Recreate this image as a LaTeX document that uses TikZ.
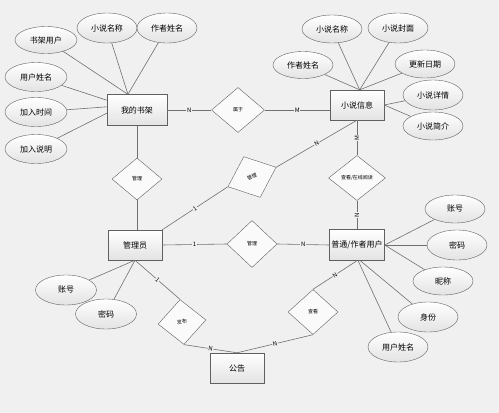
\documentclass[tikz,border=0pt]{standalone}
\usepackage{fontspec}
\newfontfamily\cjk{Noto Sans CJK SC}
\usetikzlibrary{shapes.geometric}
\definecolor{bg}{HTML}{F0F0F0}
\definecolor{edge}{HTML}{606060}
\tikzset{
  entity/.style={draw=edge, rectangle, minimum width=54pt, minimum height=30pt, inner sep=0pt,
    top color=white, bottom color=gray!22, font=\cjk\fontsize{8}{9}\selectfont},
  attr/.style={draw=edge, ellipse, minimum width=60pt, minimum height=28pt, inner sep=0pt,
    top color=white, bottom color=gray!22, font=\cjk\fontsize{8}{9}\selectfont},
  rel/.style={draw=edge, diamond, minimum width=50pt, minimum height=44pt, inner sep=0pt,
    fill=gray!4, font=\cjk\fontsize{5}{6}\selectfont},
  link/.style={draw=edge!90, line width=0.6pt},
  card/.style={fill=bg, inner sep=0.6pt, font=\cjk\fontsize{6}{7}\selectfont},
}
\begin{document}
\begin{tikzpicture}[x=1pt,y=-1pt]

% Background and picture size
\fill[bg] (0,0) rectangle (499,413);
\useasboundingbox (0,0) rectangle (499,413);

% Entities
\node[entity, minimum width=60pt, minimum height=31pt] (shelf) at (137,110) {我的书架};
\node[entity] (info) at (357,105) {小说信息};
\node[entity, minimum width=55pt, minimum height=31pt] (user) at (357,245) {普通/作者用户};
\node[entity] (admin) at (135,245) {管理员};
\node[entity] (notice) at (237,368) {公告};

% Relations
\node[rel, minimum width=53pt, minimum height=45pt] (belong) at (238,110) {属于};
\node[rel, minimum height=42pt] (manageshelf) at (137,179) {管理};
\node[rel, minimum width=52pt, rotate=22] (managebook) at (252,177) {管理};
\node[rel, minimum width=57pt, minimum height=45pt] (read) at (357,178) {查看/在线阅读};
\node[rel, minimum height=47pt] (manageuser) at (252,244) {管理};
\node[rel, minimum width=48pt, minimum height=45pt, rotate=5] (publish) at (182,322) {发布};
\node[rel, minimum height=45pt] (view) at (313,312) {查看};

% Attributes of the bookshelf
\node[attr, minimum width=62pt, minimum height=27pt] (shelfuser) at (46,40) {书架用户};
\node[attr, minimum height=30pt] (shelfbook) at (107,28) {小说名称};
\node[attr, minimum height=30pt] (shelfauthor) at (167,28) {作者姓名};
\node[attr, minimum width=62pt, minimum height=29pt] (shelfname) at (36,77) {用户姓名};
\node[attr, minimum width=62pt, minimum height=29pt] (shelftime) at (36,112) {加入时间};
\node[attr, minimum width=62pt, minimum height=29pt] (shelfnote) at (36,149) {加入说明};

% Attributes of the novel
\node[attr] (infoname) at (332,29) {小说名称};
\node[attr, minimum height=30pt] (infocover) at (398,28) {小说封面};
\node[attr, minimum height=27pt] (infoauthor) at (303,65) {作者姓名};
\node[attr] (infodate) at (425,64) {更新日期};
\node[attr, minimum height=30pt] (infodetail) at (433,95) {小说详情};
\node[attr] (infointro) at (433,126) {小说简介};

% Attributes of the user
\node[attr] (useraccount) at (455,209) {账号};
\node[attr, minimum height=30pt] (userpass) at (457,245) {密码};
\node[attr] (usernick) at (443,281) {昵称};
\node[attr, minimum height=30pt] (userrole) at (428,317) {身份};
\node[attr, minimum height=30pt] (username) at (398,347) {用户姓名};

% Attributes of the administrator
\node[attr, minimum width=61pt, minimum height=30pt] (adminaccount) at (66,290) {账号};
\node[attr, minimum width=61pt, minimum height=30pt] (adminpass) at (106,314) {密码};

% Attribute links
\draw[link] (shelfuser) -- (shelf.120);
\draw[link] (shelfbook) -- (shelf.120);
\draw[link] (shelfauthor) -- (shelf.120);
\draw[link] (shelfname) -- (shelf.162);
\draw[link] (shelftime) -- (shelf.174);
\draw[link] (shelfnote) -- (shelf.186);

\draw[link] (infoname) -- (info.80);
\draw[link] (infocover) -- (info.80);
\draw[link] (infoauthor) -- (info.80);
\draw[link] (infodate) -- (info.80);
\draw[link] (infodetail) -- (info.east);
\draw[link] (infointro) -- (info.east);

\draw[link] (useraccount) -- (user.east);
\draw[link] (userpass) -- (user.east);
\draw[link] (usernick) -- (user.east);
\draw[link] (userrole) -- (user.-78);
\draw[link] (username) -- (user.-86);

\draw[link] (adminaccount) -- (admin.south);
\draw[link] (adminpass) -- (admin.south);

% Relation links with cardinalities
\draw[link] (shelf.east) -- node[card] {N} (belong.west);
\draw[link] (belong.east) -- node[card] {M} (belong.east -| info.west);
\draw[link] (shelf.south) -- (manageshelf.north);
\draw[link] (manageshelf.south) -- (manageshelf.south |- admin.north);
\draw[link] (admin.north east) -- node[card, sloped] {1} (managebook.west);
\draw[link] (managebook.east) -- node[card, sloped] {N} (info.south);
\draw[link] (info.south) -- node[card, rotate=90] {M} (read.north);
\draw[link] (read.south) -- node[card, rotate=90] {N} (user.north);
\draw[link] (admin.east) -- node[card] {1} (manageuser.west);
\draw[link] (manageuser.east) -- node[card] {N} (user.west);
\draw[link] (admin.south) -- node[card, sloped] {1} (publish.north);
\draw[link] (publish.south) -- node[card, sloped] {N} (notice.north);
\draw[link] (view.north) -- node[card, sloped] {N} (user.south);
\draw[link] (view.south) -- node[card, sloped] {N} (notice.north);

\end{tikzpicture}
\end{document}
